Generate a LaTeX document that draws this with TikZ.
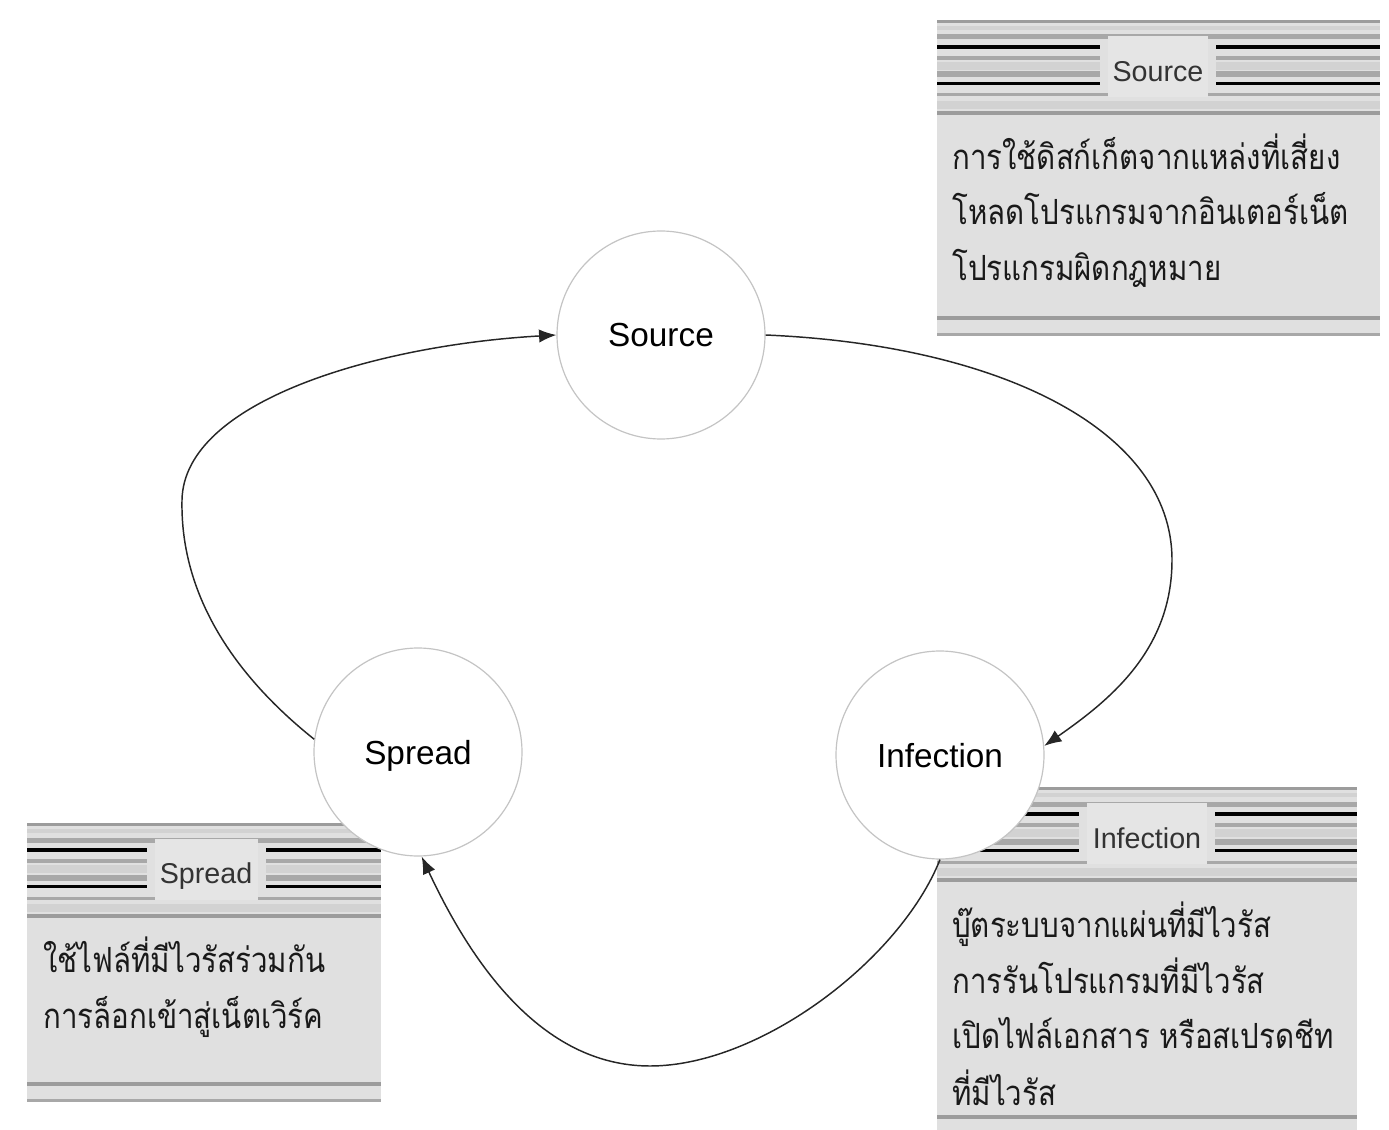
\documentclass[tikz,border=0pt]{standalone}
\usepackage{fontspec}
\setmainfont{Liberation Sans}
\newfontfamily\thaifont[Script=Thai,FakeStretch=0.85]{Loma}
\usetikzlibrary{arrows.meta}
\definecolor{boxbg}{HTML}{E0E0E0}
\definecolor{labelbg}{HTML}{E5E5E5}
\definecolor{stripeA}{HTML}{9C9C9C}
\definecolor{stripeB}{HTML}{A8A8A8}
\definecolor{stripeL}{HTML}{D2D2D2}
\definecolor{circgray}{HTML}{C4C4C4}
\tikzset{
  stage/.style={circle, draw=circgray, fill=white, line width=0.9pt, minimum size=156pt, inner sep=0pt,
    text depth=0pt, font=\fontsize{25}{30}\selectfont, text=black},
  titletext/.style={anchor=base, inner sep=0pt, font=\fontsize{21.5}{26}\selectfont, text=black!80},
  bodytext/.style={anchor=base west, inner sep=0pt, font=\thaifont\fontsize{26}{30}\selectfont, text=black!90},
  conn/.style={draw=black!85, line width=1.1pt, -{Latex[length=13pt,width=10pt]}},
}
\newcommand\stripebox[6]{%
  \fill[boxbg] (#1,#2) rectangle (#3,#4);
  \foreach \dy/\c/\w in {8/stripeL/3pt, 46/stripeL/6pt, 85/stripeL/6pt,
      1.5/stripeA/2.25pt, 17/stripeB/3.75pt, 27/black/2.6pt, 38/stripeB/3pt,
      54.5/stripeB/4.5pt, 63.5/black/2.6pt, 75/stripeB/2.25pt, 93/stripeA/2.6pt}
    \draw[\c, line width=\w] (#1,{#2+\dy}) -- (#3,{#2+\dy});
  \draw[stripeA, line width=3pt] (#1,{#4-18}) -- (#3,{#4-18});
  \draw[stripeB, line width=2.25pt] (#1,{#4-1.5}) -- (#3,{#4-1.5});
  \fill[boxbg] ({#5-8},{#2+21}) rectangle ({#6+8},{#2+70});
  \fill[labelbg] (#5,{#2+16}) rectangle (#6,{#2+77});
}
\begin{document}
\begin{tikzpicture}[x=0.75pt, y=-0.75pt]
\useasboundingbox (0,0) rectangle (1389,1130);
% info boxes
\stripebox{937}{20}{1380}{336}{1108}{1208}
\stripebox{937}{787}{1357}{1135}{1087}{1207}
\stripebox{27}{823}{381}{1102}{155}{258}
\node[titletext] (srcTitle) at (1158,82) {Source};
\node[titletext] (infTitle) at (1147,848) {Infection};
\node[titletext] (sprTitle) at (206,883) {Spread};
\node[bodytext] (srcL1) at (952,170) {การใช้ดิสก์เก็ตจากแหล่งที่เสี่ยง};
\node[bodytext] (srcL2) at (952,225) {โหลดโปรแกรมจากอินเตอร์เน็ต};
\node[bodytext] (srcL3) at (952,281) {โปรแกรมผิดกฎหมาย};
\node[bodytext] (infL1) at (952,937) {บู๊ตระบบจากแผ่นที่มีไวรัส};
\node[bodytext] (infL2) at (952,993) {การรันโปรแกรมที่มีไวรัส};
\node[bodytext] (infL3) at (952,1048) {เปิดไฟล์เอกสาร หรือสเปรดชีท};
\node[bodytext] (infL4) at (952,1105) {ที่มีไวรัส};
\node[bodytext] (sprL1) at (43,972) {ใช้ไฟล์ที่มีไวรัสร่วมกัน};
\node[bodytext] (sprL2) at (43,1028) {การล็อกเข้าสู่เน็ตเวิร์ค};
% stages
\node[stage] (src) at (661,335) {Source};
\node[stage] (inf) at (940,755) {Infection};
\node[stage] (spr) at (418,752) {Spread};
% connectors
\coordinate (m1) at (1172,560);
\coordinate (m2) at (650,1066);
\coordinate (m3) at (182,500);
\draw[conn] (src.east) .. controls (1000,345) and (1172,430) .. (m1) .. controls (1172,650) and (1110,700) .. (inf.5);
\draw[conn] (inf.south) .. controls (900,960) and (760,1066) .. (m2) .. controls (540,1066) and (470,960) .. (spr.-88);
\draw[conn] (spr.173) .. controls (240,680) and (180,600) .. (m3) .. controls (184,400) and (380,345) .. (src.west);
\end{tikzpicture}
\end{document}
